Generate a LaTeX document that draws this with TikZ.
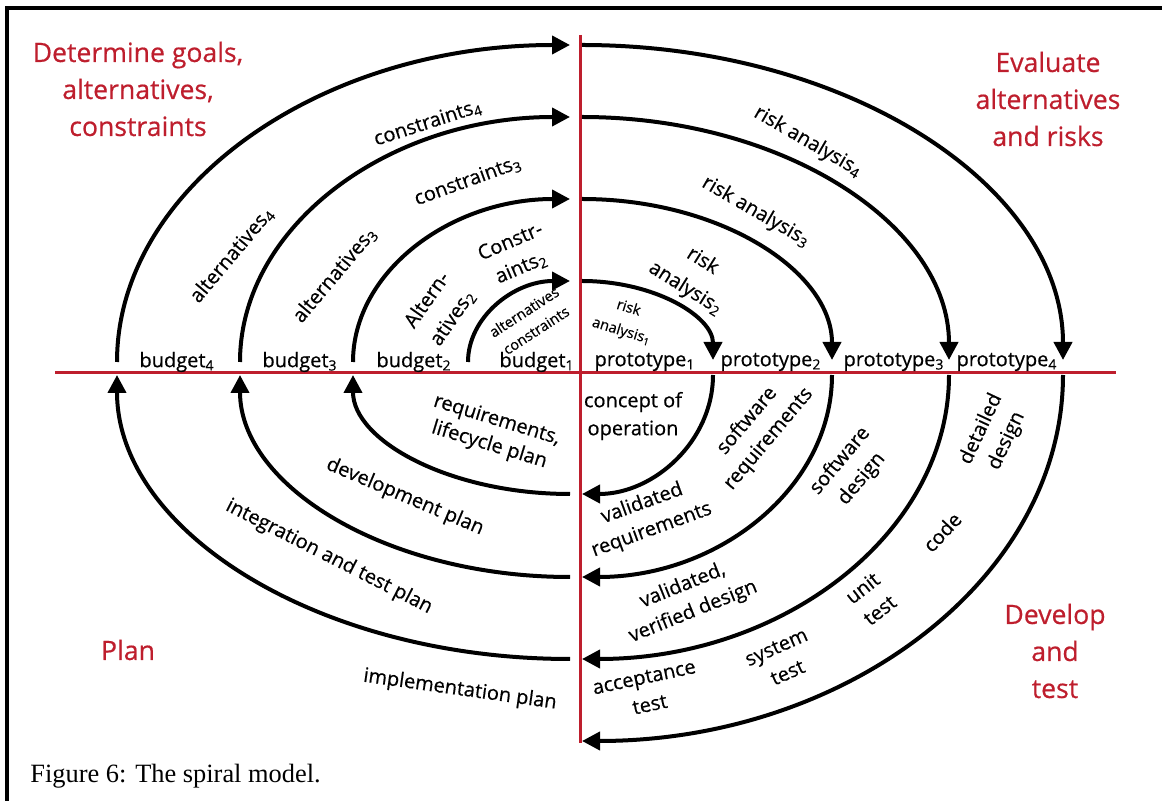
\documentclass[tikz,border=0pt]{standalone}
\usepackage{fontspec}
\setmainfont{Open Sans}[FakeBold=0.5]
\newfontfamily\capfont{Liberation Serif}
\usetikzlibrary{arrows.meta}
\definecolor{axisred}{RGB}{190,30,45}
\begin{document}
\begin{tikzpicture}[x=0.5pt,y=-0.5pt,
  spir/.style={line width=2pt,-{Triangle[length=9pt,width=9pt]}},
  axisline/.style={line width=1.65pt,draw=axisred},
  frameline/.style={line width=1.75pt,draw=black},
  lab/.style={font=\fontsize{10}{14}\selectfont,align=center,inner sep=0pt},
  smalllab/.style={font=\fontsize{7.3}{11}\selectfont,align=center,inner sep=0pt},
  titlelab/.style={font=\fontsize{13.3}{18.5}\selectfont,text=axisred,align=center,inner sep=0pt}]
\useasboundingbox (0,0) rectangle (1162,801);
% frame (top and left edges)
\draw[frameline] (7,805) -- (7,8) -- (1170,8);
% axes
\coordinate (hl) at (55,372.5);
\coordinate (hr) at (1116,372.5);
\coordinate (vt) at (580.5,35);
\coordinate (vb) at (580.5,743);
\draw[axisline] (hl) -- (hr);
\draw[axisline] (vt) -- (vb);
% spiral: upper-left quarter (centre 570,362)
\coordinate (ul1) at (468,362);
\coordinate (ul2) at (353,362);
\coordinate (ul3) at (240,362);
\coordinate (ul4) at (117,362);
\draw[spir] (ul1) arc[start angle=180,end angle=270,x radius=102,y radius=81];
\draw[spir] (ul2) arc[start angle=180,end angle=270,x radius=217,y radius=163];
\draw[spir] (ul3) arc[start angle=180,end angle=270,x radius=330,y radius=245];
\draw[spir] (ul4) arc[start angle=180,end angle=270,x radius=453,y radius=317];
% upper-right quarter (centre 582,360)
\coordinate (ur1) at (582,281);
\coordinate (ur2) at (582,199);
\coordinate (ur3) at (582,117);
\coordinate (ur4) at (582,45);
\draw[spir] (ur1) arc[start angle=270,end angle=360,x radius=131,y radius=79];
\draw[spir] (ur2) arc[start angle=270,end angle=360,x radius=250,y radius=161];
\draw[spir] (ur3) arc[start angle=270,end angle=360,x radius=367,y radius=243];
\draw[spir] (ur4) arc[start angle=270,end angle=360,x radius=481,y radius=315];
% lower-right quarter (centre 582,375)
\coordinate (lr1) at (713,375);
\coordinate (lr2) at (832,375);
\coordinate (lr3) at (949,375);
\coordinate (lr4) at (1063,375);
\draw[spir] (lr1) arc[start angle=0,end angle=90,x radius=131,y radius=119];
\draw[spir] (lr2) arc[start angle=0,end angle=90,x radius=250,y radius=202];
\draw[spir] (lr3) arc[start angle=0,end angle=90,x radius=367,y radius=284];
\draw[spir] (lr4) arc[start angle=0,end angle=90,x radius=481,y radius=366];
% lower-left quarter (centre 570,375)
\coordinate (ll1) at (570,494);
\coordinate (ll2) at (570,577);
\coordinate (ll3) at (570,659);
\draw[spir] (ll1) arc[start angle=90,end angle=180,x radius=217,y radius=119];
\draw[spir] (ll2) arc[start angle=90,end angle=180,x radius=330,y radius=202];
\draw[spir] (ll3) arc[start angle=90,end angle=180,x radius=453,y radius=284];
% quadrant titles
\node[titlelab] (tq1) at (138,89) {Determine goals,\\alternatives,\\constraints};
\node[titlelab] (tq2) at (1048,99) {Evaluate\\alternatives\\and risks};
\node[titlelab] (tq3) at (128,650) {Plan};
\node[titlelab] (tq4) at (1055,651) {Develop\\and\\test};
% axis labels
\node[lab] (b4) at (177,362) {budget\textsubscript{4}};
\node[lab] (b3) at (300,362) {budget\textsubscript{3}};
\node[lab] (b2) at (414,362) {budget\textsubscript{2}};
\node[lab] (b1) at (537,362) {budget\textsubscript{1}};
\node[lab] (p1) at (645,362) {prototype\textsubscript{1}};
\node[lab] (p2) at (771,362) {prototype\textsubscript{2}};
\node[lab] (p3) at (894,362) {prototype\textsubscript{3}};
\node[lab] (p4) at (1007,362) {prototype\textsubscript{4}};
% upper-left labels
\node[lab,rotate=18] (c4) at (428,123) {constraints\textsubscript{4}};
\node[lab,rotate=20] (c3) at (468,181) {constraints\textsubscript{3}};
\node[lab,rotate=50] (a4) at (232,255) {alternatives\textsubscript{4}};
\node[lab,rotate=50] (a3) at (335,275) {alternatives\textsubscript{3}};
\node[lab,rotate=55,font=\fontsize{10}{15.5}\selectfont] (a2) at (440,309) {Altern-\\atives\textsubscript{2}};
\node[lab,rotate=23] (c2) at (516,255) {Constr-\\aints\textsubscript{2}};
\node[smalllab,rotate=33] (ac1) at (530,321) {alternatives\\constraints};
% upper-right labels
\node[lab,rotate=-30] (r4) at (808,142) {risk analysis\textsubscript{4}};
\node[lab,rotate=-30] (r3) at (756,212) {risk analysis\textsubscript{3}};
\node[lab,rotate=-32,font=\fontsize{10}{16}\selectfont] (r2) at (694,275) {risk\\analysis\textsubscript{2}};
\node[smalllab,rotate=-17,font=\fontsize{7.3}{12}\selectfont] (r1) at (625,320) {risk\\analysis\textsubscript{1}};
% lower-left labels
\node[lab,rotate=-17,font=\fontsize{10}{13}\selectfont] (rl) at (493,433) {requirements,\\lifecycle plan};
\node[lab,rotate=-23] (dp) at (405,497) {development plan};
\node[lab,rotate=-27] (it) at (329,557) {integration and test plan};
\node[lab,rotate=-8] (ip) at (460,690) {implementation plan};
% lower-right labels
\node[lab] (co) at (633,416) {concept of\\operation};
\node[lab,rotate=50] (sr) at (758,430) {software\\requirements};
\node[lab,rotate=50] (sd) at (851,470) {software\\design};
\node[lab,rotate=65] (dd) at (994,435) {detailed\\design};
\node[lab,rotate=47] (cd) at (942,532) {code};
\node[lab,rotate=38] (ut) at (871,599) {unit\\test};
\node[lab,rotate=24] (st) at (782,660) {system\\test};
\node[lab,rotate=20] (vr) at (647,517) {validated\\requirements};
\node[lab,rotate=22] (vd) at (688,599) {validated,\\verified design};
\node[lab,rotate=12] (at) at (647,691) {acceptance\\test};
% caption
\node[anchor=base west,inner sep=0pt,font=\capfont\fontsize{13.2}{16}\selectfont] (cap) at (30,782) {Figure 6: The spiral model.};
\end{tikzpicture}
\end{document}
